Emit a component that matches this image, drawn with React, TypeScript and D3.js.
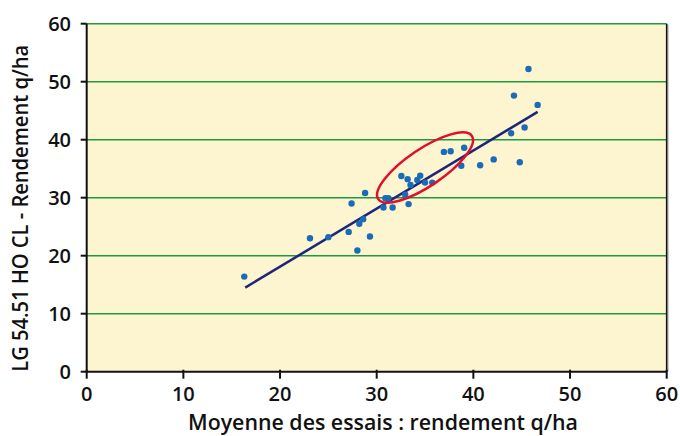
import React from "react";
import * as d3 from "d3";

const xValues = [16.3, 23.1, 25.0, 27.1, 28.0, 28.2, 28.6, 29.3, 27.4, 28.8, 30.7, 30.9, 31.2, 31.65, 32.95, 33.3, 32.55, 33.2, 33.5, 34.2, 34.5, 35.0, 35.75, 36.95, 37.65, 39.05, 38.75, 40.7, 42.1, 43.9, 44.8, 45.3, 44.2, 45.7, 46.65];
const yValues = [16.4, 23.0, 23.2, 24.1, 20.9, 25.5, 26.3, 23.3, 29.0, 30.8, 28.3, 29.9, 29.9, 28.3, 30.5, 28.9, 33.75, 33.2, 32.2, 33.05, 33.8, 32.6, 32.6, 37.9, 38.0, 38.6, 35.5, 35.6, 36.6, 41.1, 36.1, 42.1, 47.6, 52.2, 46.0];
const trendX = [16.4, 46.65];
const trendY = [14.5, 44.8];
const ellipseCenter = [35.0, 35.2];
const xTicks = [0, 10, 20, 30, 40, 50, 60];
const yTicks = [0, 10, 20, 30, 40, 50, 60];
const xTitle = "Moyenne des essais : rendement q/ha";
const yTitle = "LG 54.51 HO CL - Rendement q/ha";

const W = 680, H = 436;
const L = 86.7, R = 666.7, T = 23.7, B = 371.7;
const FONT = "'Open Sans', 'Noto Sans', sans-serif";

export default function App() {
  const x = d3.scaleLinear().domain([0, 60]).range([L, R]);
  const y = d3.scaleLinear().domain([0, 60]).range([B, T]);
  const line = d3.line<number>().x((d, i) => x(trendX[i])).y((d, i) => y(trendY[i]));
  const cx = x(ellipseCenter[0]);
  const cy = y(ellipseCenter[1]);
  return (
    <svg width={W} height={H} style={{ position: "absolute", left: 0, top: 0, background: "#fff" }}>
      <rect x={L} y={T} width={R - L} height={B - T} fill="#fdf4d0" />
      {yTicks.filter(t => t > 0).map(t => (
        <line key={t} x1={L} x2={R} y1={y(t)} y2={y(t)} stroke="#1f9a3c" strokeWidth={1.6} />
      ))}
      <line x1={R + 1.5} x2={R + 1.5} y1={T + 1} y2={B} stroke="#bbb" strokeWidth={1} />
      <line x1={R} x2={R} y1={T} y2={B} stroke="#111" strokeWidth={1.6} />
      <line x1={L} x2={L} y1={T} y2={B} stroke="#111" strokeWidth={2} />
      <line x1={L} x2={R} y1={B} y2={B} stroke="#111" strokeWidth={2} />
      {yTicks.map(t => (
        <g key={"y" + t}>
          <line x1={L - 6} x2={L} y1={y(t)} y2={y(t)} stroke="#111" strokeWidth={2} />
          <text x={71} y={y(t)} dy="0.35em" textAnchor="end" fontFamily={FONT} fontWeight={600} fontSize={20} fill="#111">{t}</text>
        </g>
      ))}
      {xTicks.map(t => (
        <g key={"x" + t}>
          <line x1={x(t)} x2={x(t)} y1={B - 2} y2={B + 7} stroke="#111" strokeWidth={2} />
          <text x={x(t)} y={400.5} textAnchor="middle" fontFamily={FONT} fontWeight={600} fontSize={20} fill="#111">{t}</text>
        </g>
      ))}
      <path d={line(trendX) || ""} stroke="#1d2678" strokeWidth={2.5} fill="none" />
      {xValues.map((v, i) => (
        <circle key={i} cx={x(v)} cy={y(yValues[i])} r={3.2} fill="#1a6cb8" />
      ))}
      <ellipse cx={cx} cy={cy} rx={56.5} ry={18.5} transform={`rotate(-34 ${cx} ${cy})`} fill="none" stroke="#e0102c" strokeWidth={2.5} />
      <text x={383} y={430} textAnchor="middle" fontFamily={FONT} fontWeight={600} fontSize={22} textLength={390} lengthAdjust="spacingAndGlyphs" fill="#111">{xTitle}</text>
      <text transform={`translate(28.3, 208.3) rotate(-90)`} textAnchor="middle" fontFamily={FONT} fontWeight={600} fontSize={21.5} textLength={327} lengthAdjust="spacingAndGlyphs" fill="#111">{yTitle}</text>
    </svg>
  );
}
